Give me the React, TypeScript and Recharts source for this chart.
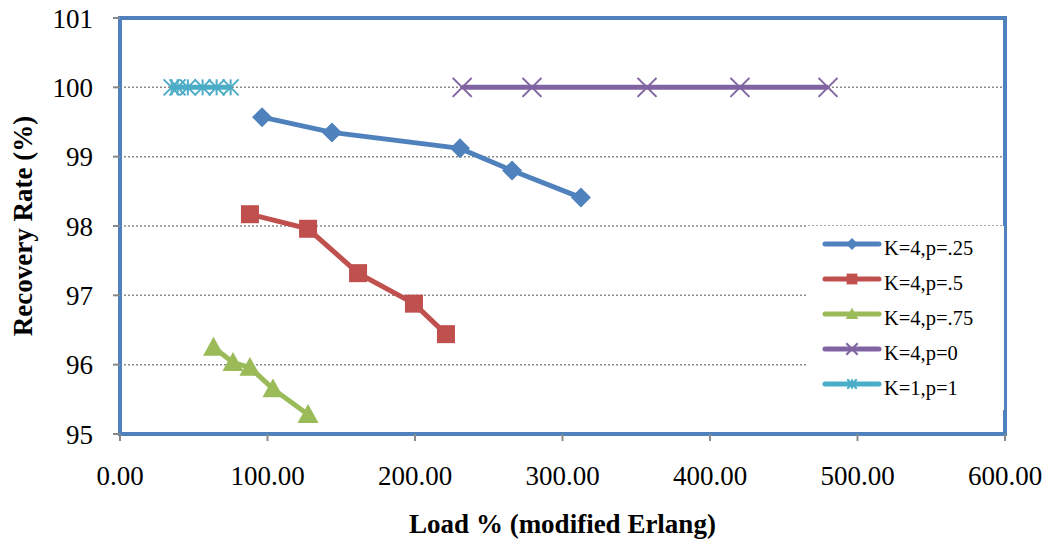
import { LineChart, Line, XAxis, YAxis, CartesianGrid, Legend, ReferenceArea, Label } from 'recharts';

type Pt = { x: number; y: number };
type Shape = 'diamond' | 'square' | 'triangle' | 'cross' | 'star';

const loadP25 = [96.3, 143.7, 230.5, 265.8, 312.5];
const rateP25 = [99.57, 99.35, 99.12, 98.8, 98.41];

const loadP5 = [88.1, 127.5, 161.4, 199.3, 221.0];
const rateP5 = [98.17, 97.96, 97.32, 96.88, 96.44];

const loadP75 = [63.4, 76.6, 88.1, 103.7, 127.5];
const rateP75 = [96.25, 96.03, 95.96, 95.65, 95.28];

const loadP0 = [232, 279.3, 357.3, 420.3, 480];
const rateP0 = [100, 100, 100, 100, 100];

const loadK1 = [35, 39, 46, 56, 65.5, 75];
const rateK1 = [100, 100, 100, 100, 100, 100];

const xTicks = [0, 100, 200, 300, 400, 500, 600];
const yTicks = [95, 96, 97, 98, 99, 100, 101];

const zip = (xs: number[], ys: number[]): Pt[] => xs.map((x, i) => ({ x, y: ys[i] }));

const series = [
  { name: 'K=4,p=.25', data: zip(loadP25, rateP25), color: '#4f81bd', shape: 'diamond' as Shape },
  { name: 'K=4,p=.5', data: zip(loadP5, rateP5), color: '#c0504d', shape: 'square' as Shape },
  { name: 'K=4,p=.75', data: zip(loadP75, rateP75), color: '#9bbb59', shape: 'triangle' as Shape },
  { name: 'K=4,p=0', data: zip(loadP0, rateP0), color: '#8064a2', shape: 'cross' as Shape },
  { name: 'K=1,p=1', data: zip(loadK1, rateK1), color: '#4bacc6', shape: 'star' as Shape },
];

const FONT = "'Liberation Serif', 'Times New Roman', serif";

function Marker({ cx, cy, shape, color, s = 1 }: { cx: number; cy: number; shape: Shape; color: string; s?: number }) {
  if (shape === 'diamond') {
    const r = 10 * s;
    return <polygon points={`${cx},${cy - r} ${cx + r},${cy} ${cx},${cy + r} ${cx - r},${cy}`} fill={color} />;
  }
  if (shape === 'square') {
    const r = 9 * s;
    return <rect x={cx - r} y={cy - r} width={r * 2} height={r * 2} fill={color} />;
  }
  if (shape === 'triangle') {
    const r = 10.5 * s;
    return <polygon points={`${cx},${cy - r} ${cx + r},${cy + r * 0.8} ${cx - r},${cy + r * 0.8}`} fill={color} />;
  }
  if (shape === 'cross') {
    const r = 9.5 * s;
    return (
      <g stroke={color} strokeWidth={2}>
        <line x1={cx - r} y1={cy - r} x2={cx + r} y2={cy + r} />
        <line x1={cx - r} y1={cy + r} x2={cx + r} y2={cy - r} />
      </g>
    );
  }
  const r = 8 * s;
  return (
    <g stroke={color} strokeWidth={2}>
      <line x1={cx - r} y1={cy - r} x2={cx + r} y2={cy + r} />
      <line x1={cx - r} y1={cy + r} x2={cx + r} y2={cy - r} />
      <line x1={cx} y1={cy - r} x2={cx} y2={cy + r} />
    </g>
  );
}

const makeDot = (shape: Shape, color: string) => (props: any) => (
  <g key={`dot-${shape}-${props.index}`}>
    <Marker cx={props.cx} cy={props.cy} shape={shape} color={color} />
  </g>
);

function LegendBox() {
  return (
    <div style={{ background: '#fff', width: 196, height: 184, fontFamily: FONT, fontSize: 20.5, color: '#000' }}>
      {series.map((s) => (
        <div key={s.name} style={{ display: 'flex', alignItems: 'center', height: 35 }}>
          <svg width={60} height={20} style={{ marginLeft: 14, marginRight: 2 }}>
            <line x1={3} y1={10} x2={57} y2={10} stroke={s.color} strokeWidth={5} strokeLinecap="round" />
            <Marker cx={30} cy={10} shape={s.shape} color={s.color} s={0.6} />
          </svg>
          <span style={{ position: 'relative', top: 5 }}>{s.name}</span>
        </div>
      ))}
    </div>
  );
}

function YTitle(props: any) {
  const vb = props.viewBox || { x: 0, y: 18, width: 120, height: 416 };
  const x = vb.x + 32;
  const y = vb.y + vb.height / 2;
  return (
    <text x={x} y={y} transform={`rotate(-90, ${x}, ${y})`} textAnchor="middle" fontFamily={FONT} fontSize={27} fontWeight="bold" fill="#000">
      Recovery Rate (%)
    </text>
  );
}

export default function App() {
  return (
    <div style={{ position: 'absolute', left: 0, top: 0, background: '#fff', fontFamily: FONT }}>
      <LineChart width={1046} height={539} margin={{ top: 18, right: 41, left: 0, bottom: 0 }}>
        <CartesianGrid vertical={false} stroke="#8a8a8a" strokeDasharray="2 2" strokeWidth={1.5} />
        <XAxis
          dataKey="x"
          type="number"
          domain={[0, 600]}
          ticks={xTicks}
          allowDuplicatedCategory={false}
          tickFormatter={(v: number) => v.toFixed(2)}
          height={105}
          axisLine={false}
          tickSize={7}
          tickMargin={25}
          tickLine={{ stroke: '#8a8a8a', strokeWidth: 2 }}
          tick={{ fill: '#000', fontSize: 27, fontFamily: FONT }}
          label={{ value: 'Load % (modified Erlang)', position: 'insideBottom', offset: 6, style: { fill: '#000', fontSize: 27, fontWeight: 'bold', fontFamily: FONT } }}
        />
        <YAxis
          dataKey="y"
          type="number"
          domain={[95, 101]}
          ticks={yTicks}
          width={120}
          axisLine={false}
          tickSize={7}
          tickMargin={20}
          tickLine={{ stroke: '#8a8a8a', strokeWidth: 2 }}
          tick={{ fill: '#000', fontSize: 27, fontFamily: FONT }}
        >
          <Label content={<YTitle />} />
        </YAxis>
        {series.map((s) => (
          <Line
            key={s.name}
            data={s.data}
            dataKey="y"
            name={s.name}
            stroke={s.color}
            strokeWidth={5}
            dot={makeDot(s.shape, s.color)}
            activeDot={false}
            isAnimationActive={false}
          />
        ))}
        <ReferenceArea x1={0} x2={600} y1={95} y2={101} fill="none" stroke="#4f81bd" strokeWidth={4} />
        <Legend
          layout="horizontal"
          verticalAlign="middle"
          align="center"
          content={<LegendBox />}
          wrapperStyle={{ position: 'absolute', left: 808, top: 226, width: 196, height: 184 }}
        />
      </LineChart>
    </div>
  );
}
